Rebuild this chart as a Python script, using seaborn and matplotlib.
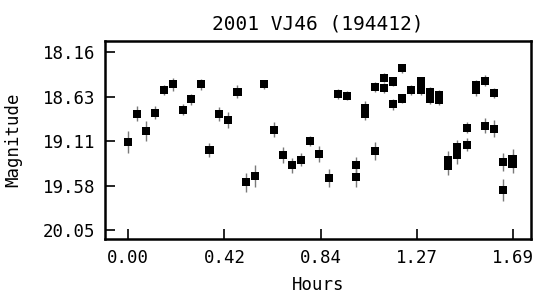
"""
Lightcurve plot for 2001 VJ46 (194412)
"""

import numpy as np
import pandas as pd
import matplotlib
matplotlib.use("Agg")
import matplotlib.pyplot as plt
import seaborn as sns

# Observations: time (hours), magnitude, magnitude error
hours = [0.000, 0.037, 0.077, 0.116, 0.156, 0.195, 0.239, 0.277, 0.318, 0.357,
         0.397, 0.440, 0.480, 0.519, 0.558, 0.598, 0.642, 0.681, 0.721, 0.760,
         0.800, 0.839, 0.883, 0.922, 0.962, 1.001, 1.001, 1.041, 1.041, 1.085,
         1.085, 1.124, 1.124, 1.163, 1.163, 1.203, 1.203, 1.242, 1.286, 1.286,
         1.326, 1.326, 1.365, 1.365, 1.404, 1.404, 1.444, 1.444, 1.488, 1.488,
         1.527, 1.527, 1.567, 1.567, 1.606, 1.606, 1.646, 1.646, 1.689, 1.689]
mag = [19.11, 18.81, 18.99, 18.80, 18.56, 18.50, 18.77, 18.66, 18.50, 19.20,
       18.81, 18.88, 18.58, 19.54, 19.47, 18.50, 18.98, 19.25, 19.36, 19.30,
       19.10, 19.24, 19.49, 18.60, 18.62, 19.36, 19.48, 18.75, 18.81, 18.53,
       19.21, 18.43, 18.54, 18.47, 18.71, 18.33, 18.65, 18.56, 18.47, 18.56,
       18.58, 18.66, 18.61, 18.67, 19.30, 19.37, 19.17, 19.25, 18.96, 19.14,
       18.51, 18.56, 18.46, 18.94, 18.59, 18.97, 19.32, 19.62, 19.29, 19.34]
mag_err = [0.117, 0.082, 0.106, 0.067, 0.056, 0.071, 0.057, 0.062, 0.058, 0.075,
           0.074, 0.088, 0.069, 0.099, 0.115, 0.045, 0.083, 0.083, 0.078, 0.067,
           0.055, 0.088, 0.094, 0.050, 0.051, 0.090, 0.110, 0.070, 0.070, 0.053,
           0.094, 0.048, 0.050, 0.052, 0.058, 0.045, 0.052, 0.052, 0.053, 0.050,
           0.050, 0.050, 0.050, 0.050, 0.090, 0.090, 0.080, 0.090, 0.060, 0.070,
           0.060, 0.060, 0.062, 0.078, 0.055, 0.090, 0.095, 0.115, 0.100, 0.100]

x_ticks = [0.0, 0.4225, 0.845, 1.2675, 1.69]
x_labels = ["0.00", "0.42", "0.84", "1.27", "1.69"]
y_ticks = [18.16, 18.6325, 19.105, 19.5775, 20.05]
y_labels = ["18.16", "18.63", "19.11", "19.58", "20.05"]

df = pd.DataFrame({"Hours": hours, "Magnitude": mag, "err": mag_err})

sns.set_style("white", {"xtick.direction": "in", "ytick.direction": "in",
                        "xtick.bottom": True, "ytick.left": True})
plt.rcParams["font.family"] = ["DejaVu Sans Mono", "DejaVu Sans"]
plt.rcParams["text.color"] = "black"
plt.rcParams["axes.labelcolor"] = "black"
plt.rcParams["xtick.direction"] = "in"
plt.rcParams["ytick.direction"] = "in"

fig = plt.figure(figsize=(5.36, 2.95), dpi=100)
ax = fig.add_axes([0.196, 0.19, 0.795, 0.671])

# error bars first, then the square markers on top
ax.errorbar(df["Hours"], df["Magnitude"], yerr=df["err"], fmt="none",
            ecolor="#7a7a7a", elinewidth=1.0, capsize=0, zorder=1)
sns.scatterplot(data=df, x="Hours", y="Magnitude", marker="s", s=34,
                color="black", edgecolor="none", linewidth=0, ax=ax, zorder=2)

ax.set_xlim(-0.102, 1.771)
ax.set_ylim(20.14, 18.04)
ax.set_xticks(x_ticks)
ax.set_xticklabels(x_labels)
ax.set_yticks(y_ticks)
ax.set_yticklabels(y_labels)

ax.tick_params(axis="both", which="major", direction="in", length=7,
               width=1.2, labelsize=12.5, colors="black", pad=7,
               bottom=True, left=True, top=False, right=False)
for sp in ax.spines.values():
    sp.set_linewidth(1.8)
    sp.set_color("black")

ax.set_xlabel("Hours", fontsize=12.5, color="black", labelpad=7)
ax.set_ylabel("Magnitude", fontsize=12.5, color="black", labelpad=15)
ax.set_title("2001 VJ46 (194412)", fontsize=14, pad=8, color="black")

fig.savefig("out.png", dpi=100)
